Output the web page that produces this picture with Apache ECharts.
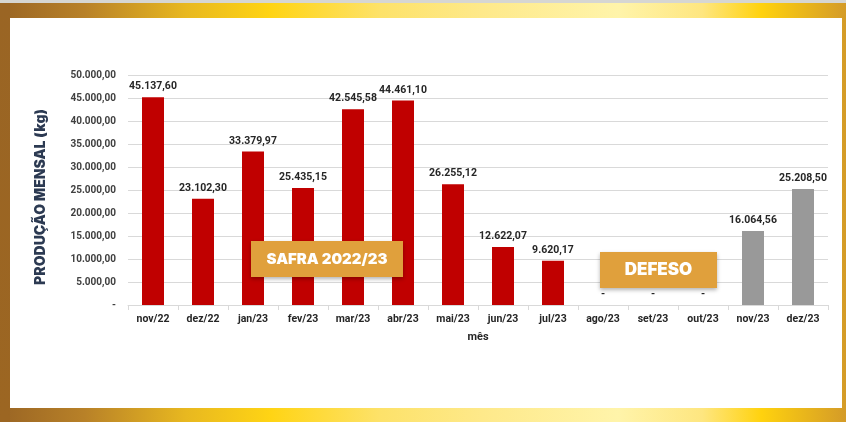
<!DOCTYPE html>
<html>
<head>
<meta charset="utf-8">
<script src="https://cdn.jsdelivr.net/npm/echarts@6/dist/echarts.min.js"></script>
<style>
  html, body { margin: 0; padding: 0; }
  #frame {
    position: relative; width: 846px; height: 422px; overflow: hidden;
    background: linear-gradient(to right, #9a6524 0%, #b88128 10%, #e8b820 22%, #ffd414 32%, #fde26a 45%, #fee98a 57%, #fff4aa 73%, #fee680 83%, #ffd20e 90%, #d49b28 100%);
  }
  #topstrip { position: absolute; left: 0; top: 0; width: 846px; height: 3px; background: #d6d6d2; }
  #leftbar { position: absolute; left: 0; top: 3px; width: 10px; height: 419px; background: linear-gradient(to bottom, #9a6524, #9c6622); }
  #panel { position: absolute; left: 10px; top: 18px; width: 832px; height: 390px; background: #fff; }
  #chart { position: absolute; left: 0; top: 0; width: 846px; height: 422px; }
</style>
</head>
<body>
<div id="frame">
  <div id="topstrip"></div>
  <div id="leftbar"></div>
  <div id="panel"></div>
  <div id="chart"></div>
</div>
<script>
  // meses e produção mensal (kg)
  const meses = ['nov/22', 'dez/22', 'jan/23', 'fev/23', 'mar/23', 'abr/23', 'mai/23',
    'jun/23', 'jul/23', 'ago/23', 'set/23', 'out/23', 'nov/23', 'dez/23']
  const producao = [45137.60, 23102.30, 33379.97, 25435.15, 42545.58, 44461.10, 26255.12,
    12622.07, 9620.17, 0, 0, 0, 16064.56, 25208.50]
  const safra = ['2022/23', '2022/23', '2022/23', '2022/23', '2022/23', '2022/23', '2022/23',
    '2022/23', '2022/23', '2022/23', '2022/23', '2022/23', '2023/24', '2023/24']
  const yMin = 0
  const yMax = 50000
  const yStep = 5000

  const corSafra = { '2022/23': '#c00000', '2023/24': '#999999' }

  function fmt (v) {
    if (v === 0) return '-'
    let parts = v.toFixed(2).split('.')
    let inteiro = parts[0].replace(/\B(?=(\d{3})+(?!\d))/g, '.')
    return inteiro + ',' + parts[1]
  }

  const myChart = echarts.init(document.getElementById('chart'))
  const fonte = 'Roboto, "Liberation Sans", sans-serif'

  const option = {
    animation: false,
    backgroundColor: 'transparent',
    grid: { left: 128, right: 18, top: 75, bottom: 117 },
    xAxis: {
      type: 'category',
      data: meses,
      name: 'mês',
      nameLocation: 'middle',
      nameGap: 27,
      nameTextStyle: { fontFamily: fonte, fontWeight: 'bold', fontSize: 11, color: '#262626' },
      axisLine: { lineStyle: { color: '#d9d9d9' } },
      axisTick: { show: true, length: 5, lineStyle: { color: '#d9d9d9' } },
      axisLabel: { fontFamily: fonte, fontWeight: 'bold', fontSize: 10.5, color: '#262626', margin: 9 }
    },
    yAxis: {
      type: 'value',
      min: yMin,
      max: yMax,
      interval: yStep,
      name: 'PRODUÇÃO MENSAL (kg)',
      nameLocation: 'middle',
      nameGap: 80,
      nameRotate: 90,
      nameTextStyle: { fontFamily: 'Inter, sans-serif', fontWeight: 900, fontSize: 14, color: '#2c3a52', padding: [0, 0, 0, -14] },
      axisLine: { show: false },
      axisTick: { show: false },
      splitLine: { lineStyle: { color: '#d9d9d9' } },
      axisLabel: { fontFamily: fonte, fontWeight: 'bold', fontSize: 10, color: '#404040', margin: 12, formatter: fmt }
    },
    series: [{
      type: 'bar',
      barWidth: 22,
      data: producao.map((v, i) => ({ value: v, itemStyle: { color: corSafra[safra[i]] } })),
      label: {
        show: true,
        position: 'top',
        distance: 5,
        fontFamily: fonte,
        fontWeight: 'bold',
        fontSize: 10.5,
        color: '#262626',
        formatter: p => fmt(p.value)
      }
    }],
    graphic: [
      {
        type: 'group',
        left: 251,
        top: 241,
        z: 100,
        children: [
          {
            type: 'rect',
            z: 100,
            shape: { x: 0, y: 0, width: 152, height: 36 },
            style: { fill: '#e0a03c', shadowBlur: 4, shadowOffsetY: 2, shadowColor: 'rgba(0,0,0,0.3)' }
          },
          {
            type: 'text',
            z: 101,
            x: 76,
            y: 18,
            style: { text: 'SAFRA 2022/23', fill: '#fff', font: '900 15px Inter, sans-serif', align: 'center', verticalAlign: 'middle' }
          }
        ]
      },
      {
        type: 'group',
        left: 600,
        top: 252,
        z: 100,
        children: [
          {
            type: 'rect',
            z: 100,
            shape: { x: 0, y: 0, width: 117, height: 36 },
            style: { fill: '#e0a03c', shadowBlur: 4, shadowOffsetY: 2, shadowColor: 'rgba(0,0,0,0.3)' }
          },
          {
            type: 'text',
            z: 101,
            x: 58.5,
            y: 18,
            style: { text: 'DEFESO', fill: '#fff', font: '900 17px Inter, sans-serif', align: 'center', verticalAlign: 'middle' }
          }
        ]
      }
    ]
  }

  myChart.setOption(option)
</script>
</body>
</html>
